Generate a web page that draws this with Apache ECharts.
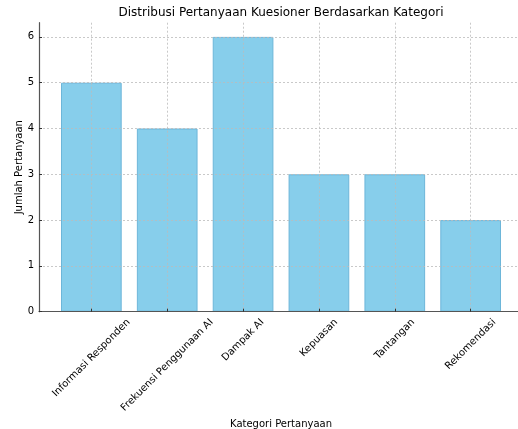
<!DOCTYPE html>
<html><head><meta charset="utf-8">
<script src="https://cdn.jsdelivr.net/npm/echarts@6/dist/echarts.min.js"></script>
<style>html,body{margin:0;padding:0;background:#fff}#c{width:518px;height:429px}</style>
</head><body><div id="c"></div>
<script>
const categories = ['Informasi Responden', 'Frekuensi Penggunaan AI', 'Dampak AI', 'Kepuasan', 'Tantangan', 'Rekomendasi'];
const values = [5, 4, 6, 3, 3, 2];
const yTicks = [0, 1, 2, 3, 4, 5, 6];
const xTicks = [0, 1, 2, 3, 4, 5];
const titleText = 'Distribusi Pertanyaan Kuesioner Berdasarkan Kategori';

const FONT = '"DejaVu Sans", sans-serif';
const ctx = document.createElement('canvas').getContext('2d');
function tw(t, size) { ctx.font = size + 'px "DejaVu Sans"'; return ctx.measureText(t).width; }

const rich = {};
categories.forEach((c, i) => {
  const w = tw(c, 10);
  rich['c' + i] = { fontSize: 10, fontFamily: FONT, color: '#000', padding: [w / 2, w / 2, 0, 0] };
});

const gridLeft = 39, gridTop = 22.7, gridBottom = 429 - 311.7, gridRight = -5;
const plotCenter = (39 + 523) / 2;

const chart = echarts.init(document.getElementById('c'), null, { renderer: 'canvas' });
chart.setOption({
  animation: false,
  backgroundColor: '#fff',
  title: {
    text: titleText,
    left: plotCenter - tw(titleText, 12) / 2,
    top: 7,
    padding: 0,
    textStyle: { fontSize: 12, fontWeight: 'normal', fontFamily: FONT, color: '#000' }
  },
  grid: { left: gridLeft, top: gridTop, bottom: gridBottom, right: gridRight, containLabel: false, outerBoundsMode: 'none' },
  xAxis: {
    type: 'value',
    min: -0.69, max: 5.69,
    z: 3,
    name: 'Kategori Pertanyaan',
    nameLocation: 'middle',
    nameGap: 108,
    nameMoveOverlap: false,
    nameTextStyle: { fontSize: 10, fontFamily: FONT, color: '#000', verticalAlign: 'top' },
    axisLine: { show: true, onZero: false, lineStyle: { color: '#555', width: 1.2 } },
    axisTick: { show: true, inside: true, length: 3, customValues: xTicks, lineStyle: { color: '#333' } },
    axisLabel: {
      customValues: xTicks,
      rotate: 45,
      align: 'center',
      verticalAlign: 'middle',
      margin: 9,
      formatter: v => '{c' + v + '|' + categories[v] + '}',
      rich: rich
    },
    splitLine: { show: true, lineStyle: { color: '#bbbbbb', type: [2, 2], width: 0.8 } }
  },
  yAxis: {
    type: 'value',
    min: 0, max: 6.31,
    z: 3,
    name: 'Jumlah Pertanyaan',
    nameLocation: 'middle',
    nameRotate: 90,
    nameGap: 15,
    nameMoveOverlap: false,
    nameTextStyle: { fontSize: 10, fontFamily: FONT, color: '#000' },
    axisLine: { show: true, onZero: false, lineStyle: { color: '#555', width: 1.2 } },
    axisTick: { show: true, inside: true, length: 3, customValues: yTicks, lineStyle: { color: '#333' } },
    axisLabel: { customValues: yTicks, fontSize: 10, fontFamily: FONT, color: '#000', margin: 5 },
    splitLine: { show: true, lineStyle: { color: '#bbbbbb', type: [2, 2], width: 0.8 } }
  },
  series: [{
    type: 'bar',
    data: categories.map((c, i) => [i, values[i]]),
    barWidth: '80%',
    itemStyle: { color: '#87CEEB', borderColor: '#6db6d9', borderWidth: 1 }
  }]
});
</script></body></html>
